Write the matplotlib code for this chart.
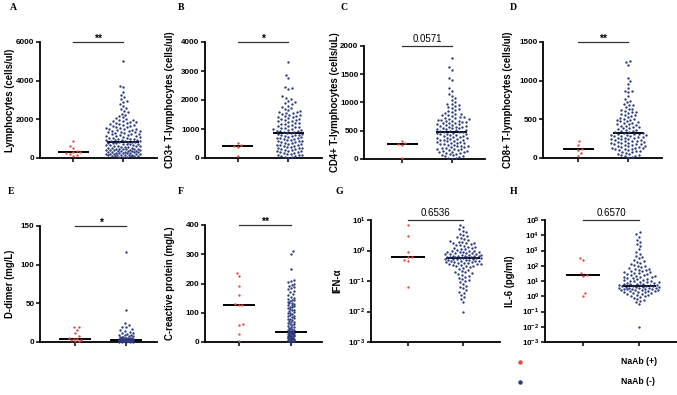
import numpy as np
import matplotlib

matplotlib.use("Agg")
import matplotlib.pyplot as plt
from matplotlib.lines import Line2D

plt.rcParams["font.family"] = ["Liberation Sans", "DejaVu Sans"]
plt.rcParams["mathtext.fontset"] = "custom"
plt.rcParams["mathtext.rm"] = "Liberation Sans"
plt.rcParams["mathtext.bf"] = "Liberation Sans:bold"

W, H = 677, 395
RED = "#e2493f"
BLUE = "#2c3a7e"

# ---------------- values ----------------
lymph_pos = [900, 640, 520, 380, 320, 290, 260, 230, 180, 120]
lymph_neg = [5000, 3750, 3650, 3400, 3250, 3150, 3050, 2950, 2900, 2800,
             2700, 2600, 2550, 2450, 2400, 2300, 2250, 2150, 2100, 2050,
             2000, 1980, 1950, 1920, 1900, 1870, 1850, 1820, 1800, 1780,
             1750, 1720, 1700, 1680, 1650, 1620, 1600, 1570, 1550, 1520,
             1500, 1480, 1460, 1440, 1420, 1400, 1380, 1360, 1340, 1320,
             1300, 1280, 1260, 1240, 1220, 1200, 1180, 1160, 1140, 1120,
             1100, 1080, 1060, 1040, 1020, 1000, 985, 970, 955, 940,
             925, 910, 895, 880, 865, 850, 835, 820, 805, 790,
             775, 760, 745, 730, 715, 700, 685, 670, 655, 640,
             625, 610, 595, 580, 565, 550, 535, 520, 505, 490,
             480, 470, 460, 450, 440, 430, 420, 410, 400, 390,
             380, 370, 360, 350, 340, 330, 320, 310, 300, 290,
             280, 270, 260, 250, 240, 230, 220, 210, 200, 190,
             180, 170, 160, 150, 140, 130, 120, 110, 100, 90,
             80, 70, 60, 50]

cd3_pos = [520, 450, 400, 370, 80]
cd3_neg = [3300, 2850, 2750, 2450, 2400, 2380, 2130, 2080, 2050, 1980,
           1920, 1880, 1850, 1800, 1760, 1720, 1680, 1650, 1620, 1600,
           1580, 1560, 1540, 1520, 1500, 1480, 1460, 1440, 1420, 1400,
           1380, 1360, 1340, 1320, 1300, 1280, 1260, 1240, 1220, 1200,
           1180, 1160, 1140, 1120, 1100, 1080, 1060, 1040, 1020, 1000,
           990, 975, 960, 945, 930, 915, 900, 885, 870, 855,
           840, 825, 810, 795, 780, 765, 750, 735, 720, 705,
           690, 675, 660, 645, 630, 615, 600, 585, 570, 555,
           540, 525, 510, 495, 480, 465, 450, 435, 420, 405,
           390, 375, 360, 345, 330, 315, 300, 285, 270, 255,
           240, 225, 210, 195, 180, 165, 150, 135, 120, 105,
           90, 75, 60, 45, 30, 15]

cd4_pos = [320, 280, 270, 250, 20]
cd4_neg = [1790, 1620, 1580, 1430, 1400, 1250, 1210, 1150, 1120, 1080,
           1050, 1010, 980, 965, 950, 935, 920, 900, 880, 860,
           845, 830, 815, 800, 790, 780, 770, 760, 750, 740,
           730, 720, 710, 700, 695, 690, 680, 675, 665, 660,
           650, 645, 635, 630, 620, 615, 605, 600, 590, 585,
           575, 570, 560, 555, 545, 540, 530, 525, 515, 510,
           500, 495, 485, 480, 470, 465, 455, 450, 440, 435,
           425, 420, 410, 405, 395, 388, 380, 372, 365, 358,
           350, 342, 335, 328, 320, 312, 305, 298, 290, 282,
           275, 268, 260, 252, 245, 238, 230, 222, 215, 208,
           200, 192, 185, 178, 170, 162, 155, 148, 140, 132,
           125, 118, 110, 102, 95, 85, 75, 65, 55, 45,
           35, 25, 15, 5]

cd8_pos = [215, 170, 110, 105, 60, 30]
cd8_neg = [1260, 1240, 1200, 1040, 1000, 960, 900, 870, 860, 850,
           800, 760, 740, 720, 700, 690, 680, 660, 640, 630,
           620, 610, 600, 590, 580, 570, 560, 550, 540, 530,
           520, 510, 500, 495, 488, 480, 472, 465, 458, 450,
           442, 435, 428, 420, 412, 405, 398, 390, 382, 375,
           368, 360, 352, 345, 338, 330, 325, 320, 315, 310,
           305, 300, 296, 292, 288, 284, 280, 275, 270, 265,
           260, 255, 250, 245, 240, 235, 230, 225, 220, 215,
           210, 205, 200, 195, 190, 185, 180, 175, 170, 165,
           160, 155, 150, 145, 140, 135, 130, 125, 120, 115,
           110, 105, 100, 95, 88, 80, 72, 65, 58, 50,
           42, 35, 28, 20, 12, 5]

ddimer_pos = [20, 19, 16, 12, 8, 5, 4, 4, 3, 2, 1.5, 1]
ddimer_neg = [117, 42, 24, 22, 20, 19, 17, 15, 14, 13, 12, 11, 10, 9.5, 9,
              8.5, 8, 7.5, 7, 6.5, 6, 5.8, 5.5, 5.2, 5, 4.8, 4.6, 4.4, 4.2,
              4, 3.9, 3.8, 3.7, 3.6, 3.5, 3.4, 3.3, 3.2, 3.1, 3, 2.9, 2.8,
              2.7, 2.6, 2.5, 2.4, 2.3, 2.2, 2.1, 2, 1.9, 1.8, 1.7, 1.6, 1.5,
              1.4, 1.3, 1.2, 1.1, 1, 0.9, 0.8, 0.7, 0.6, 0.5, 0.4, 0.3, 0.2]

crp_pos = [235, 225, 190, 160, 130, 128, 125, 60, 58, 28, 5]
crp_neg = [310, 300, 250, 212, 208, 204, 200, 196, 192, 188, 184, 180, 175,
           170, 165, 160, 155, 150, 148, 145, 142, 140, 138, 135, 132, 130,
           128, 125, 122, 120, 118, 115, 112, 110, 108, 105, 102, 100, 98,
           95, 92, 90, 88, 85, 82, 80, 78, 75, 72, 70, 68, 65, 62, 60, 58,
           55, 52, 50, 48, 46, 44, 42, 40, 38, 36, 35, 34, 33, 32, 31, 30,
           29, 28, 27, 26, 25, 24, 23, 22, 21, 20, 19, 18, 17, 16, 15, 14,
           13, 12, 11, 10, 9, 8, 7, 6, 5, 4, 3, 2, 1]

ifn_pos = [7, 3, 0.9, 0.6, 0.6, 0.5, 0.45, 0.063]
ifn_neg = [7, 6, 5, 4.5, 4, 3.6, 3.3, 3, 2.8, 2.6, 2.4, 2.2, 2.0, 1.95, 1.9,
           1.8, 1.75, 1.7, 1.6, 1.55, 1.5, 1.4, 1.35, 1.3, 1.25, 1.2, 1.15,
           1.1, 1.05, 1.0, 0.98, 0.95, 0.92, 0.9, 0.88, 0.86, 0.84, 0.82,
           0.8, 0.78, 0.76, 0.74, 0.72, 0.7, 0.69, 0.68, 0.67, 0.66, 0.65,
           0.64, 0.63, 0.62, 0.61, 0.6, 0.59, 0.58, 0.57, 0.56, 0.55, 0.54,
           0.53, 0.52, 0.51, 0.5, 0.49, 0.48, 0.47, 0.46, 0.45, 0.44, 0.43,
           0.42, 0.41, 0.4, 0.39, 0.38, 0.37, 0.36, 0.35, 0.34, 0.33, 0.32,
           0.31, 0.3, 0.29, 0.27, 0.25, 0.23, 0.21, 0.2, 0.19, 0.18, 0.17,
           0.16, 0.15, 0.14, 0.13, 0.12, 0.11, 0.1, 0.09, 0.08, 0.07, 0.065,
           0.06, 0.05, 0.045, 0.04, 0.035, 0.03, 0.025, 0.02, 0.01]

il6_pos = [330, 250, 34, 25, 22, 1.7, 1.1]
il6_neg = [16000, 12000, 8000, 5000, 3500, 2500, 2000, 1200, 800, 600, 450,
           350, 300, 250, 200, 180, 150, 130, 110, 100, 90, 80, 70, 65, 60,
           55, 50, 45, 42, 40, 37, 35, 32, 30, 28, 26, 24, 22, 20, 19, 18,
           17, 16, 15, 14, 13, 12, 11, 10.5, 10, 9.5, 9, 8.5, 8, 7.6, 7.2,
           6.8, 6.5, 6.2, 6, 5.8, 5.6, 5.4, 5.2, 5, 4.8, 4.6, 4.4, 4.2, 4,
           3.9, 3.8, 3.7, 3.6, 3.5, 3.4, 3.3, 3.2, 3.1, 3, 2.9, 2.8, 2.7,
           2.6, 2.5, 2.4, 2.3, 2.2, 2.1, 2, 1.9, 1.8, 1.7, 1.6, 1.5, 1.4,
           1.3, 1.2, 1.1, 1.0, 0.9, 0.8, 0.7, 0.6, 0.5, 0.4, 0.3, 0.01]

medians_pos = [300, 400, 270, 110, 4, 128, 0.6, 25]
medians_neg = [850, 850, 480, 320, 3, 33, 0.55, 5]
p_labels = ["**", "*", "0.0571", "**", "*", "**", "0.6536", "0.6570"]
letters = ["A", "B", "C", "D", "E", "F", "G", "H"]
ylabels = ["Lymphocytes (cells/ul)", "CD3+ T-lymphocytes (cells/ul)",
           "CD4+ T-lymphocytes (cells/uL)", "CD8+ T-lymphocytes (cells/ul)",
           "D-dimer (mg/L)", "C-reactive protein (mg/L)", "IFN-α",
           "IL-6 (pg/ml)"]
groups = ["NaAb (+)", "NaAb (-)"]

# ---------------- layout (pixels) ----------------
# box = left, right, top, bottom ; hw = swarm half-widths (px) ; lx = ylabel x ; let = letter xy
panels = [
    dict(box=(40, 157, 42, 158), xlim=(0.34, 2.68), ylim=(0, 6000), yticks=range(0, 6001, 2000),
         log=False, hw=(9, 17), lx=10, let=(10, 8)),
    dict(box=(205, 322, 42, 158), xlim=(0.34, 2.68), ylim=(0, 4000), yticks=range(0, 4001, 1000),
         log=False, hw=(8, 18), lx=170, let=(178, 8)),
    dict(box=(364, 485, 46, 159), xlim=(0.24, 2.66), ylim=(0, 2000), yticks=range(0, 2001, 500),
         log=False, hw=(8, 19), lx=335, let=(340, 8)),
    dict(box=(543, 662, 42, 158), xlim=(0.30, 2.68), ylim=(0, 1500), yticks=range(0, 1501, 500),
         log=False, hw=(8, 18), lx=508, let=(510, 8)),
    dict(box=(40, 157, 226, 342), xlim=(0.31, 2.61), ylim=(0, 150), yticks=range(0, 151, 50),
         log=False, hw=(6, 7), lx=10, let=(8, 192)),
    dict(box=(205, 322, 225, 342), xlim=(0.35, 2.60), ylim=(0, 400), yticks=range(0, 401, 100),
         log=False, hw=(4, 3), lx=170, let=(178, 192)),
    dict(box=(371, 500, 220, 342), xlim=(0.33, 2.67), ylim=(1e-3, 1e1), yticks=range(-3, 2),
         log=True, hw=(6, 18), lx=337, let=(336, 192)),
    dict(box=(545, 677, 220, 342), xlim=(0.32, 2.68), ylim=(1e-3, 1e5), yticks=range(-3, 6),
         log=True, hw=(6, 20), lx=510, let=(510, 192)),
]
data_pos = [lymph_pos, cd3_pos, cd4_pos, cd8_pos, ddimer_pos, crp_pos, ifn_pos, il6_pos]
data_neg = [lymph_neg, cd3_neg, cd4_neg, cd8_neg, ddimer_neg, crp_neg, ifn_neg, il6_neg]

DIAM = 3.6  # px spacing between dots in the swarm


def fx(x):
    return x / W


def fy(y):
    return 1 - y / H


def swarm_x(ax, xc, values, half_width):
    """GraphPad-like scatter: spread points sideways, overlap when too crowded."""
    vals = np.asarray(values, dtype=float)
    pts = ax.transData.transform(np.column_stack([np.full(len(vals), xc), vals]))
    x0, ys = pts[0, 0], pts[:, 1]
    steps = np.arange(0.25, half_width + 0.01, 0.25)
    cand = np.concatenate([[0.0], np.ravel(np.column_stack([steps, -steps]))])
    offs = np.zeros(len(vals))
    px, py = [], []
    for n, i in enumerate(np.argsort(ys)):
        y = ys[i]
        o = 0.0
        if px:
            ax_ = np.array(px)
            ay_ = np.array(py)
            near = np.abs(ay_ - y) < DIAM
            if near.any():
                c = cand if n % 2 else -cand
                dx = c[:, None] - ax_[near][None, :]
                dy = y - ay_[near]
                dist = np.sqrt(dx ** 2 + dy[None, :] ** 2).min(axis=1)
                ok = dist >= DIAM
                o = c[ok.argmax()] if ok.any() else c[dist.argmax()]
        offs[i] = o
        px.append(o)
        py.append(y)
    back = ax.transData.inverted().transform(np.column_stack([x0 + offs, ys]))
    return back[:, 0]


fig = plt.figure(figsize=(W / 100, H / 100), dpi=100)

for k, p in enumerate(panels):
    l, r, t, b = p["box"]
    ax = fig.add_axes([fx(l), fy(b), (r - l) / W, (b - t) / H])
    if p["log"]:
        ax.set_yscale("log")
        ax.set_yticks([10.0 ** e for e in p["yticks"]])
        ax.set_yticklabels([r"$\mathbf{10^{%d}}$" % e for e in p["yticks"]])
        ax.minorticks_off()
    else:
        ax.set_yticks(list(p["yticks"]))
        ax.set_yticklabels([str(v) for v in p["yticks"]], fontweight="bold")
    ax.set_xlim(*p["xlim"])
    ax.set_ylim(*p["ylim"])
    ax.set_xticks([1, 2])
    ax.set_xticklabels([])
    for s in ("top", "right"):
        ax.spines[s].set_visible(False)
    for s in ("left", "bottom"):
        ax.spines[s].set_linewidth(1.3)
    ax.tick_params(axis="both", length=3, width=1.1, labelsize=5.8, pad=1)
    ax.patch.set_alpha(0)

    for g, (vals, med, color) in enumerate([(data_pos[k], medians_pos[k], RED),
                                            (data_neg[k], medians_neg[k], BLUE)]):
        xc = g + 1
        xs = swarm_x(ax, xc, vals, p["hw"][g])
        ax.plot([xc - 0.31, xc + 0.31], [med, med], color="black", lw=1.4, zorder=2,
                solid_capstyle="butt")
        ax.scatter(xs, vals, s=2.9, color=color, linewidths=0, zorder=3, clip_on=False)

    # significance bar
    tr = ax.get_xaxis_transform()
    ax.plot([1, 2], [1.0, 1.0], transform=tr, color="#333333", lw=0.9, clip_on=False)
    is_star = "*" in p_labels[k]
    ax.annotate(p_labels[k], (1.5, 1.0), xycoords=tr, xytext=(0, -1 if is_star else 1.5),
                textcoords="offset points", ha="center", va="bottom",
                fontsize=7.5 if is_star else 7, fontweight="bold" if is_star else "normal")

    fig.text(fx(p["lx"]), fy((t + b) / 2), ylabels[k], rotation=90, ha="center", va="center",
             fontsize=6.9, fontweight="bold")
    fig.text(fx(p["let"][0]), fy(p["let"][1]), letters[k], ha="left", va="center",
             fontsize=7, family="Liberation Serif", fontweight="bold")

# legend below the last panels
for (yy, color, label) in [(362, RED, groups[0]), (382, BLUE, groups[1])]:
    fig.add_artist(Line2D([fx(520)], [fy(yy)], transform=fig.transFigure, marker="o",
                          markersize=2.2, color=color, linestyle="none"))
    fig.text(fx(621), fy(yy), label, ha="left", va="center", fontsize=6.2, fontweight="bold")

fig.savefig("out.png", dpi=100)
